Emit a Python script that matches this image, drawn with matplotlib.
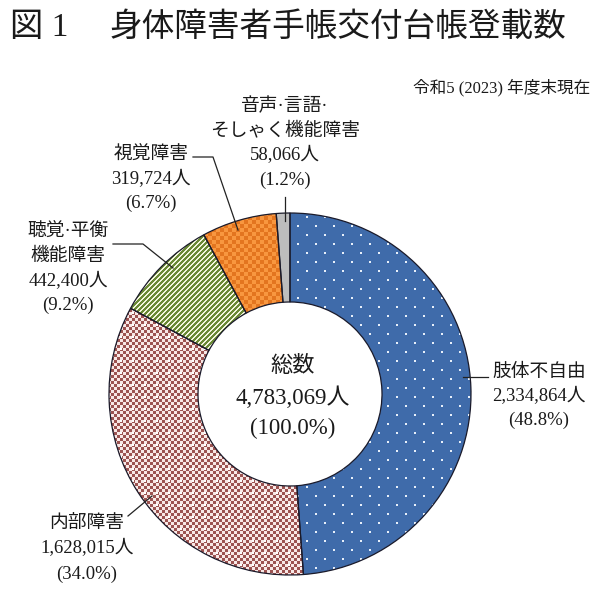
import numpy as np
import matplotlib
matplotlib.use('Agg')
import matplotlib.pyplot as plt

plt.rcParams['font.family'] = ['Liberation Serif', 'Noto Sans CJK JP']

# ---- data ----
categories = ['肢体不自由', '内部障害', '聴覚·平衡\n機能障害', '視覚障害', '音声·言語·\nそしゃく機能障害']
counts = [2334864, 1628015, 442400, 319724, 58066]
percents = [48.8, 34.0, 9.2, 6.7, 1.2]
total_label = '総数'
total_count = 4783069
total_percent = 100.0
title_num = '図 1'
title_text = '身体障害者手帳交付台帳登載数'
subtitle = '令和5 (2023) 年度末現在'

# ---- styling / layout ----
W, H = 597, 598
CX, CY, R_OUT, R_IN = 290, 394, 181, 92
base_colors = ['#3F6BAA', '#A8605C', '#6E8B37', '#F28A33', '#BDBDBD']

fig = plt.figure(figsize=(W / 100, H / 100), dpi=100)
ax = fig.add_axes([0, 0, 1, 1])

wedges, _ = ax.pie(counts, colors=base_colors, center=(CX, CY), radius=R_OUT,
                   startangle=270, counterclock=True,
                   wedgeprops=dict(width=R_OUT - R_IN, edgecolor='#1a1a2a', linewidth=0.9))
ax.set_xlim(0, W)
ax.set_ylim(H, 0)
ax.set_aspect('equal')
ax.axis('off')

# ---- textures (pixel grid) ----
yy, xx = np.mgrid[0:H, 0:W]


def hex2rgb(h):
    h = h.lstrip('#')
    return np.array([int(h[i:i + 2], 16) for i in (0, 2, 4)], dtype=float) / 255.0


def two_tone(mask, c_on, c_off):
    img = np.empty((H, W, 3))
    img[:] = hex2rgb(c_off)
    img[mask] = hex2rgb(c_on)
    return img


# blue: staggered white dots
row = yy // 9
dot_mask = ((yy % 9) < 2) & (((xx + (row % 2) * 9) % 18) < 2)
tex_blue = two_tone(dot_mask, '#E8F0FA', '#3F6BAA')
# pink: fine checker with sparse white spots
pink_mask = ((xx // 3 + yy // 3) % 2) == 0
tex_pink = two_tone(pink_mask, '#9C5351', '#F8E8E6')
spots = ((xx % 12) < 2) & ((yy % 12) < 2)
tex_pink[spots] = hex2rgb('#FFFFFF')
# green: white diagonal stripes
tex_green = two_tone(((xx + yy) % 5) < 2, '#F3F6DE', '#6A8935')
# orange: checker
tex_orange = two_tone(((xx // 4 + yy // 4) % 2) == 0, '#E3751F', '#F8973F')
tex_gray = two_tone(np.zeros((H, W), bool), '#BDBDBD', '#BDBDBD')
textures = [tex_blue, tex_pink, tex_green, tex_orange, tex_gray]

for w, tex in zip(wedges, textures):
    w.set_facecolor('none')
    w.set_zorder(3)
    im = ax.imshow(tex, extent=(0, W, H, 0), interpolation='nearest', zorder=2)
    im.set_clip_path(w)

ax.set_xlim(0, W)
ax.set_ylim(H, 0)

TXT = '#1a1a1a'


def label_lines(i):
    lines = categories[i].split('\n')
    lines.append(f'{counts[i]:,}人')
    lines.append(f'({percents[i]:.1f}%)')
    return lines


# label anchors: (center x, first line y, line step)
label_pos = [(539, 372, 24), (87, 523, 25.5), (68, 232, 24.5), (151, 155, 24), (285, 106, 24.7)]
for i, (lx, ly, step) in enumerate(label_pos):
    for k, s in enumerate(label_lines(i)):
        ax.text(lx, ly + k * step, s, ha='center', va='center', fontsize=13.5, color=TXT, zorder=5)

# leader lines
leaders = [
    [(463, 377), (488, 377)],
    [(128, 516), (152, 496)],
    [(113, 244), (143, 244), (173, 268)],
    [(193, 157), (213, 157), (238, 230)],
    [(285, 197), (285, 221)],
]
for pts in leaders:
    xs, ys = zip(*pts)
    ax.plot(xs, ys, color='#222222', lw=0.9, zorder=4)

# center text
ax.text(293, 367, total_label, ha='center', va='center', fontsize=16, color=TXT, zorder=5)
ax.text(293, 398, f'{total_count:,}人', ha='center', va='center', fontsize=16.5, color=TXT, zorder=5)
ax.text(293, 428, f'({total_percent:.1f}%)', ha='center', va='center', fontsize=16.5, color=TXT, zorder=5)

# titles
ax.text(10, 28, title_num, ha='left', va='center', fontsize=24, color=TXT)
ax.text(110, 28, title_text, ha='left', va='center', fontsize=23.5, color=TXT)
ax.text(590, 88, subtitle, ha='right', va='center', fontsize=12, color=TXT)

fig.savefig('out.png', dpi=100)
